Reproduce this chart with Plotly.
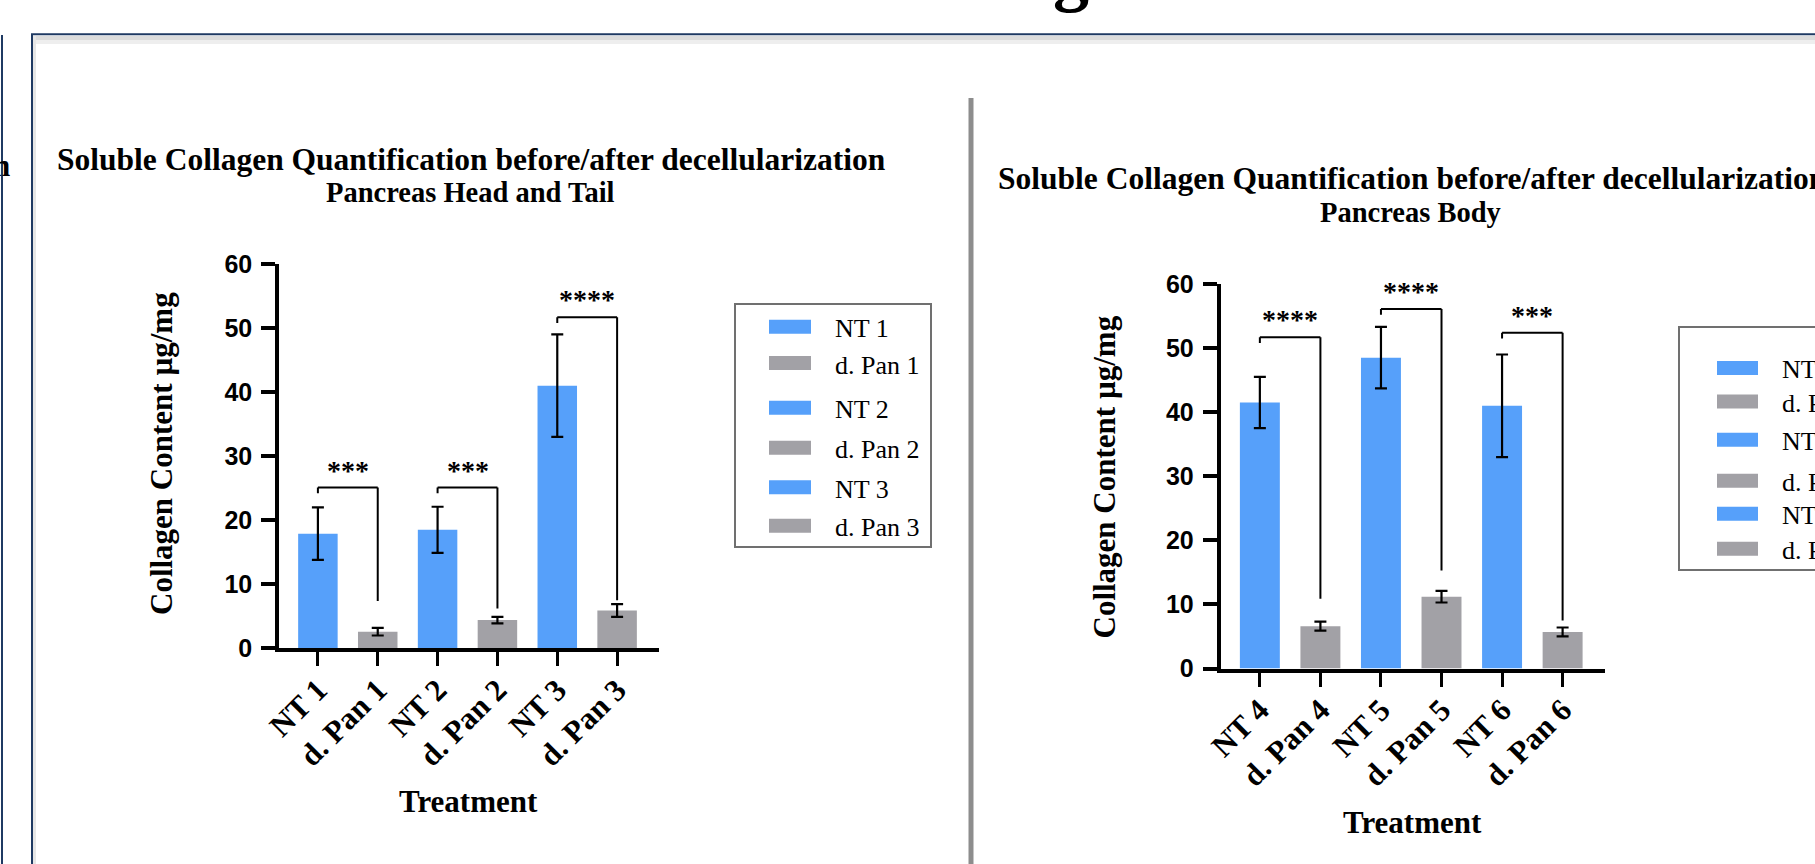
import plotly.graph_objects as go

W, H = 1815, 864

# ---------------- data ----------------
left_labels = ["NT 1", "d. Pan 1", "NT 2", "d. Pan 2", "NT 3", "d. Pan 3"]
left_means = [17.9, 2.6, 18.5, 4.4, 41.0, 5.9]
left_errors = [4.1, 0.6, 3.6, 0.5, 8.0, 1.0]
left_sig_text = ["***", "***", "****"]
left_sig_top = [25.1, 25.1, 51.7]
left_sig_end = [7.4, 6.2, 7.5]

right_labels = ["NT 4", "d. Pan 4", "NT 5", "d. Pan 5", "NT 6", "d. Pan 6"]
right_means = [41.5, 6.6, 48.5, 11.2, 41.0, 5.7]
right_errors = [4.0, 0.7, 4.8, 0.9, 8.0, 0.7]
right_sig_text = ["****", "****", "***"]
right_sig_top = [51.7, 56.1, 52.4]
right_sig_end = [10.9, 15.3, 7.5]

y_ticks = [0, 10, 20, 30, 40, 50, 60]
title_main = "Soluble Collagen Quantification before/after decellularization"
left_subtitle = "Pancreas Head and Tail"
right_subtitle = "Pancreas Body"
y_title = "Collagen Content µg/mg"
x_title = "Treatment"

BLUE = "#56A0FA"
GRAY = "#A2A1A6"
NAVY = "#1F3A63"
SERIF = "Liberation Serif"
SANS = "Liberation Sans"


def px(x):
    return x / W


def py(y):
    return 1 - y / H


fig = go.Figure()

charts = [
    dict(labels=left_labels, means=left_means, errors=left_errors,
         sig_text=left_sig_text, sig_top=left_sig_top, sig_end=left_sig_end,
         xa="x", ya="y",
         title_xy=(471, 159), title_anchor="center", sub_xy=(470.6, 192.8), subtitle=left_subtitle,
         ytitle_xy=(162, 454), xtitle_xy=(468, 801),
         legend_box=(735, 304, 931, 547), swatch_x=(769, 811), text_x=833,
         legend_rows=[22.7, 59, 103.7, 143.7, 183.3, 221.7]),
    dict(labels=right_labels, means=right_means, errors=right_errors,
         sig_text=right_sig_text, sig_top=right_sig_top, sig_end=right_sig_end,
         xa="x2", ya="y2",
         title_xy=(996, 178.4), title_anchor="left", sub_xy=(1410.7, 212.8), subtitle=right_subtitle,
         ytitle_xy=(1104, 477.5), xtitle_xy=(1412.5, 822),
         legend_box=(1679, 327, 1875, 570), swatch_x=(1717, 1758), text_x=1780,
         legend_rows=[41, 74.4, 112.7, 153.7, 186.7, 221.7]),
]

shapes = []
annotations = []

for c in charts:
    colors = [BLUE if lab.startswith("NT") else GRAY for lab in c["labels"]]
    fig.add_trace(go.Bar(
        x=c["labels"], y=c["means"], xaxis=c["xa"], yaxis=c["ya"],
        width=0.66, marker=dict(color=colors, line=dict(width=0)),
        error_y=dict(type="data", array=c["errors"], color="black", thickness=2.2, width=6),
        showlegend=False, hoverinfo="x+y",
    ))
    xref, yref = c["xa"], c["ya"]
    # significance brackets
    for i, (txt, top, end) in enumerate(zip(c["sig_text"], c["sig_top"], c["sig_end"])):
        x0, x1 = 2 * i, 2 * i + 1
        line = dict(color="black", width=2)
        shapes.append(dict(type="line", xref=xref, yref=yref, x0=x0, x1=x0, y0=top - 0.9, y1=top, line=line))
        shapes.append(dict(type="line", xref=xref, yref=yref, x0=x0, x1=x1, y0=top, y1=top, line=line))
        shapes.append(dict(type="line", xref=xref, yref=yref, x0=x1, x1=x1, y0=top, y1=end, line=line))
        annotations.append(dict(xref=xref, yref=yref, x=(x0 + x1) / 2, y=top, text=txt,
                                showarrow=False, yanchor="bottom", xanchor="center", yshift=0,
                                font=dict(family=SERIF, size=28, color="black", weight="bold")))
    # titles
    tx, ty = c["title_xy"]
    annotations.append(dict(xref="paper", yref="paper", x=px(tx), y=py(ty), text=title_main,
                            showarrow=False, xanchor=c["title_anchor"], yanchor="middle",
                            font=dict(family=SERIF, size=31.5, color="black", weight="bold")))
    sx, sy = c["sub_xy"]
    annotations.append(dict(xref="paper", yref="paper", x=px(sx), y=py(sy), text=c["subtitle"],
                            showarrow=False, xanchor="center", yanchor="middle",
                            font=dict(family=SERIF, size=28.5, color="black", weight="bold")))
    yx, yy = c["ytitle_xy"]
    annotations.append(dict(xref="paper", yref="paper", x=px(yx), y=py(yy), text=y_title,
                            showarrow=False, xanchor="center", yanchor="middle", textangle=-90,
                            font=dict(family=SERIF, size=31, color="black", weight="bold")))
    xx, xy = c["xtitle_xy"]
    annotations.append(dict(xref="paper", yref="paper", x=px(xx), y=py(xy), text=x_title,
                            showarrow=False, xanchor="center", yanchor="middle",
                            font=dict(family=SERIF, size=31, color="black", weight="bold")))
    # legend (manual, built from labels/colours)
    bx0, by0, bx1, by1 = c["legend_box"]
    shapes.append(dict(type="rect", xref="paper", yref="paper", x0=px(bx0), x1=px(bx1),
                       y0=py(by0), y1=py(by1), line=dict(color="#707070", width=2), fillcolor="rgba(0,0,0,0)"))
    sw0, sw1 = c["swatch_x"]
    for lab, col, off in zip(c["labels"], colors, c["legend_rows"]):
        cy = by0 + off
        shapes.append(dict(type="rect", xref="paper", yref="paper", x0=px(sw0), x1=px(sw1),
                           y0=py(cy - 7), y1=py(cy + 7), line=dict(width=0), fillcolor=col))
        annotations.append(dict(xref="paper", yref="paper", x=px(c["text_x"]), y=py(cy + 2), text=lab,
                                showarrow=False, xanchor="left", yanchor="middle",
                                font=dict(family=SERIF, size=26, color="black")))

# ---------------- poster frame decorations ----------------
shapes += [
    dict(type="rect", xref="paper", yref="paper", x0=px(33), x1=1.01, y0=py(36), y1=py(40),
         fillcolor="#dcdcdc", line=dict(width=0), layer="below"),
    dict(type="rect", xref="paper", yref="paper", x0=px(33), x1=1.01, y0=py(40), y1=py(44),
         fillcolor="#eeeeee", line=dict(width=0), layer="below"),
    dict(type="rect", xref="paper", yref="paper", x0=px(33), x1=px(36), y0=py(36), y1=-0.01,
         fillcolor="#e6e6e6", line=dict(width=0), layer="below"),
    dict(type="line", xref="paper", yref="paper", x0=px(31), x1=1.01, y0=py(34.3), y1=py(34.3),
         line=dict(color=NAVY, width=2)),
    dict(type="line", xref="paper", yref="paper", x0=px(32), x1=px(32), y0=py(34), y1=-0.01,
         line=dict(color=NAVY, width=2)),
    dict(type="line", xref="paper", yref="paper", x0=px(2), x1=px(2), y0=py(35), y1=-0.01,
         line=dict(color=NAVY, width=2)),
    dict(type="line", xref="paper", yref="paper", x0=px(971), x1=px(971), y0=py(98), y1=-0.01,
         line=dict(color="#8d8d8d", width=5)),
]
# fragment of the neighbouring panel's title and of the poster heading above
annotations.append(dict(xref="paper", yref="paper", x=px(12), y=py(165.6), text="n", showarrow=False,
                        xanchor="right", yanchor="middle",
                        font=dict(family=SERIF, size=31, color="black", weight="bold")))
annotations.append(dict(xref="paper", yref="paper", x=px(1071), y=py(16.3), text="g", showarrow=False,
                        xanchor="center", yanchor="bottom",
                        font=dict(family=SERIF, size=72, color="black", weight="bold")))

axis_common = dict(showline=True, linecolor="black", ticks="outside", tickcolor="black",
                   showgrid=False, zeroline=False, fixedrange=True, automargin=False)
xtick_font = dict(family=SERIF, size=31, color="black", weight="bold")
ytick_font = dict(family=SANS, size=25, color="black", weight="bold")

fig.update_layout(
    template="none",
    width=W, height=H, autosize=False,
    margin=dict(l=0, r=0, t=0, b=0, pad=0, autoexpand=False),
    paper_bgcolor="white", plot_bgcolor="rgba(0,0,0,0)",
    showlegend=False,
    shapes=shapes, annotations=annotations,
    xaxis=dict(domain=[px(279), px(659)], range=[-0.65, 5.7], anchor="y", type="category",
               linewidth=4, ticklen=14, tickwidth=3, tickangle=-45, ticklabelstandoff=-7,
               tickfont=xtick_font, **axis_common),
    yaxis=dict(domain=[py(648.3), py(264)], range=[0, 60], anchor="x", tickvals=y_ticks,
               linewidth=3.5, ticklen=14, tickwidth=3.5, ticklabelstandoff=4,
               tickfont=ytick_font, **axis_common),
    xaxis2=dict(domain=[px(1220.5), px(1605)], range=[-0.65, 5.7], anchor="y2", type="category",
                linewidth=4, ticklen=14, tickwidth=3, tickangle=-45, ticklabelstandoff=-7,
                tickfont=xtick_font, **axis_common),
    yaxis2=dict(domain=[py(668.5), py(284)], range=[0, 60], anchor="x2", tickvals=y_ticks,
                linewidth=3.5, ticklen=14, tickwidth=3.5, ticklabelstandoff=4,
                tickfont=ytick_font, **axis_common),
)

fig.write_html("out.html")
